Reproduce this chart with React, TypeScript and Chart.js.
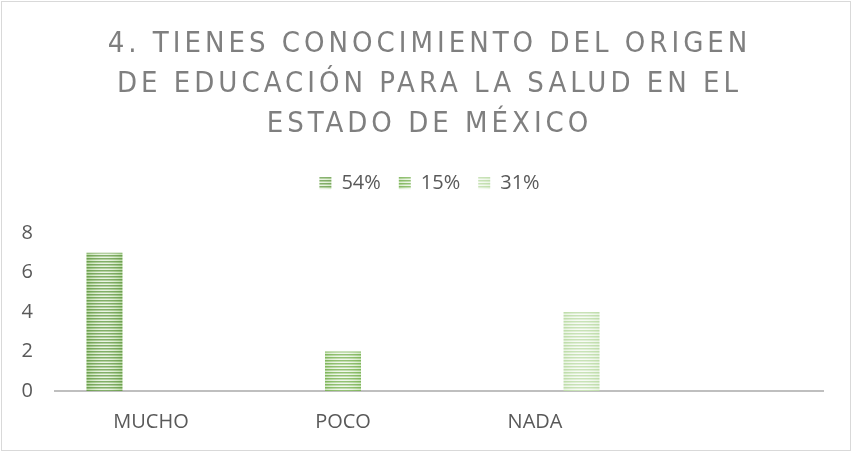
import React, { useEffect, useRef } from 'react';
import { Chart, registerables } from 'chart.js';

Chart.register(...registerables);

const categories = ['MUCHO', 'POCO', 'NADA', ''];
const seriesLabels = ['54%', '15%', '31%'];
const muchoSeries = [7, null, null, null];
const pocoSeries = [null, 2, null, null];
const nadaSeries = [null, null, 4, null];
const yTicks = [0, 2, 4, 6, 8];
const titleLines = [
  '4. TIENES CONOCIMIENTO DEL ORIGEN',
  'DE EDUCACIÓN PARA LA SALUD EN EL',
  'ESTADO DE MÉXICO',
];

const seriesColors = [
  { fg: '#5a9438', bg: '#a9d18e' },
  { fg: '#70ad47', bg: '#c5e0b4' },
  { fg: '#b7d9a0', bg: '#e2f0d9' },
];

function hexToRgb(h: string): number[] {
  const n = parseInt(h.slice(1), 16);
  return [(n >> 16) & 255, (n >> 8) & 255, n & 255];
}
function mix(a: number[], b: number[], t: number): number[] {
  return [0, 1, 2].map((i) => Math.round(a[i] + (b[i] - a[i]) * t));
}

function makePattern(ctx: CanvasRenderingContext2D, fgHex: string, bgHex: string, w: number) {
  const c = document.createElement('canvas');
  c.width = w;
  c.height = 3;
  const g = c.getContext('2d')!;
  const img = g.createImageData(w, 3);
  const fg = hexToRgb(fgHex);
  const bg = hexToRgb(bgHex);
  const white = [255, 255, 255];
  for (let y = 0; y < 3; y++) {
    for (let x = 0; x < w; x++) {
      const d = Math.abs(x + 0.5 - w / 2) / (w / 2);
      const glow = Math.max(0, 1 - d * d);
      let col: number[];
      if (y === 0) col = mix(fg, white, 0.1 + 0.15 * glow);
      else if (y === 1) col = mix(mix(fg, bg, 0.5), white, 0.1 + 0.3 * glow);
      else col = mix(bg, white, 0.2 + 0.55 * glow);
      const k = (y * w + x) * 4;
      img.data[k] = col[0];
      img.data[k + 1] = col[1];
      img.data[k + 2] = col[2];
      img.data[k + 3] = 255;
    }
  }
  g.putImageData(img, 0, 0);
  return ctx.createPattern(c, 'repeat')!;
}

const TEXT_FONT = "'Open Sans', 'Liberation Sans', sans-serif";
const TITLE_FONT = "'Liberation Sans Narrow', 'DejaVu Sans Condensed', 'Open Sans', sans-serif";

export default function App() {
  const canvasRef = useRef<HTMLCanvasElement | null>(null);

  useEffect(() => {
    const canvas = canvasRef.current!;
    const ctx = canvas.getContext('2d')!;
    const patterns = seriesColors.map((c) => makePattern(ctx, c.fg, c.bg, 36));
    const seriesData = [muchoSeries, pocoSeries, nadaSeries];

    const tweaks = {
      id: 'tweaks',
      beforeLayout(chart: any) {
        if (chart.legend && !chart.legend.__patched) {
          const lg = chart.legend;
          const origFit = lg.fit.bind(lg);
          lg.fit = function () {
            origFit();
            this.height += 30;
          };
          lg.__patched = true;
        }
        if (chart.titleBlock && !chart.titleBlock.__patched) {
          const tb = chart.titleBlock;
          const origDraw = tb.draw.bind(tb);
          tb.draw = function (area: any) {
            const c = chart.ctx;
            c.save();
            (c as any).letterSpacing = '4px';
            origDraw(area);
            c.restore();
          };
          tb.__patched = true;
        }
      },
      beforeDraw(chart: any) {
        chart.data.datasets.forEach((ds: any, i: number) => {
          const meta = chart.getDatasetMeta(i);
          meta.data.forEach((el: any, j: number) => {
            if (ds.data[j] != null && el && isFinite(el.x)) {
              const left = el.x - el.width / 2;
              patterns[i].setTransform(new DOMMatrix().translate(left, 0));
            }
          });
        });
      },
    };

    const chart = new Chart(canvas, {
      type: 'bar',
      data: {
        labels: categories,
        datasets: seriesLabels.map((label, i) => ({
          label,
          data: seriesData[i],
          backgroundColor: patterns[i],
          borderWidth: 0,
          categoryPercentage: 0.727,
          barPercentage: 0.774,
        })),
      },
      options: {
        responsive: false,
        animation: false,
        layout: { padding: { left: 36, right: 31, top: 0, bottom: 0 } },
        plugins: {
          title: {
            display: true,
            text: titleLines,
            color: '#7f7f7f',
            font: { family: TITLE_FONT, size: 29, weight: 'normal', lineHeight: 1.38 },
            padding: { top: 24, bottom: 11 },
          },
          legend: {
            display: true,
            position: 'top',
            labels: {
              boxWidth: 12,
              boxHeight: 12,
              padding: 18,
              color: '#595959',
              font: { family: TEXT_FONT, size: 20 },
            },
          },
          tooltip: { enabled: false },
        },
        scales: {
          x: {
            grid: { display: false, drawTicks: false },
            border: { display: true, color: '#bfbfbf', width: 2 },
            ticks: {
              color: '#595959',
              font: { family: TEXT_FONT, size: 20 },
              padding: 19,
              maxRotation: 0,
            },
            afterFit: (s: any) => {
              s.height = 64;
            },
          },
          y: {
            min: yTicks[0],
            max: yTicks[yTicks.length - 1],
            grid: { display: false, drawTicks: false },
            border: { display: false },
            ticks: {
              stepSize: yTicks[1] - yTicks[0],
              color: '#595959',
              font: { family: TEXT_FONT, size: 20 },
              padding: 22,
            },
            afterFit: (s: any) => {
              s.width = 19;
              s._computeLabelArea = () => undefined;
            },
          },
        },
      },
      plugins: [tweaks],
    } as any);

    return () => chart.destroy();
  }, []);

  return (
    <div style={{ position: 'absolute', left: 0, top: 0, width: 854, height: 455, background: '#fff' }}>
      <canvas ref={canvasRef} width={854} height={455} style={{ display: 'block', width: 854, height: 455 }} />
      <div
        style={{
          position: 'absolute',
          left: 1,
          top: 1,
          width: 850,
          height: 450,
          border: '1px solid #d9d9d9',
          boxSizing: 'border-box',
          pointerEvents: 'none',
        }}
      />
    </div>
  );
}
